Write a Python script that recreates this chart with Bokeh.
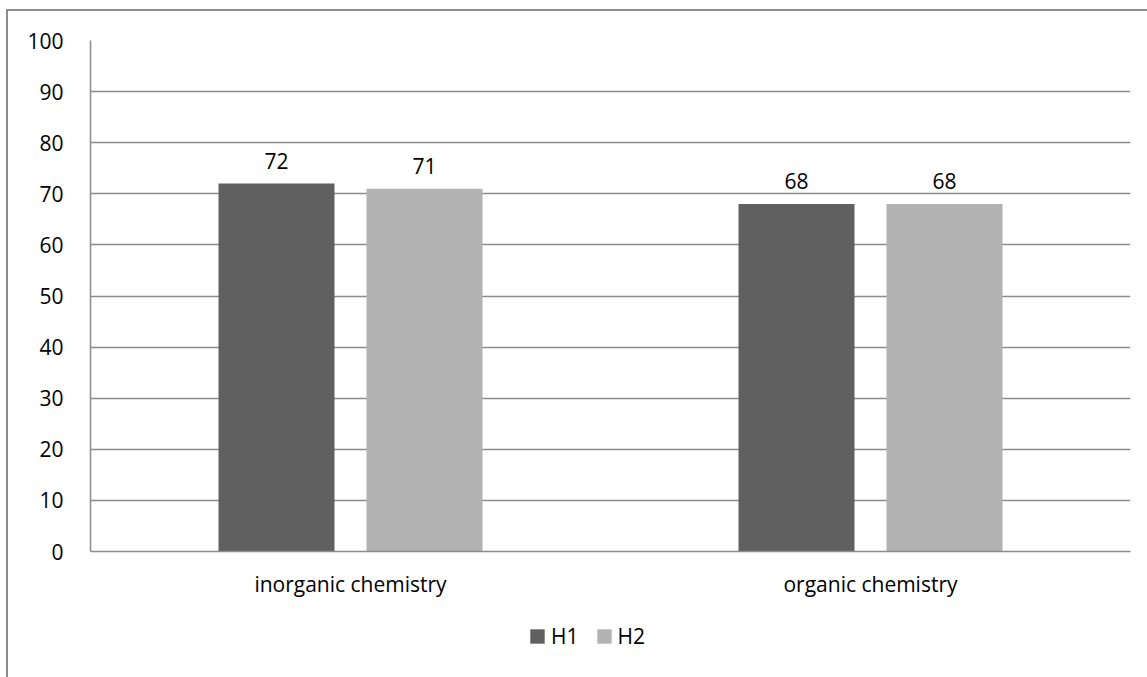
from bokeh.plotting import figure
from bokeh.layouts import column
from bokeh.models import ColumnDataSource, FactorRange, Legend, LegendItem, LabelSet, FixedTicker, Range1d
from bokeh.core.properties import value
from bokeh.transform import dodge
from bokeh.embed import file_html
from bokeh.resources import INLINE

categories = ["inorganic chemistry", "organic chemistry"]
h1_values = [72, 68]
h2_values = [71, 68]
series_names = ["H1", "H2"]
y_ticks = [0, 10, 20, 30, 40, 50, 60, 70, 80, 90, 100]

FONT = "Open Sans"
FS = "21px"
GRID = "#8c8c8c"
C1 = "#606060"
C2 = "#b2b2b2"

src = ColumnDataSource(dict(cat=categories, h1=h1_values, h2=h2_values,
                            h1s=[str(v) for v in h1_values], h2s=[str(v) for v in h2_values]))

p = figure(x_range=FactorRange(*categories, range_padding=0), y_range=Range1d(0, 100),
           width=1139, height=589, output_backend="svg", toolbar_location=None,
           min_border_left=82, min_border_right=17, min_border_top=29, min_border_bottom=48)

off = 74 / 520
bw = 116 / 520
r1 = p.vbar(x=dodge("cat", -off, range=p.x_range), top="h1", width=bw, source=src,
            fill_color=C1, line_color=None)
r2 = p.vbar(x=dodge("cat", off, range=p.x_range), top="h2", width=bw, source=src,
            fill_color=C2, line_color=None)

for col, lab in (("h1", "h1s"), ("h2", "h2s")):
    ls = LabelSet(x=dodge("cat", -off if col == "h1" else off, range=p.x_range), y=col, text=lab,
                  source=src, text_align="center", text_baseline="middle", y_offset=23,
                  text_font=value(FONT), text_font_size=value(FS), text_color="#000000")
    p.add_layout(ls)

p.outline_line_color = None
p.xgrid.grid_line_color = None
p.ygrid.grid_line_color = GRID
p.ygrid.grid_line_width = 1.5
p.yaxis.ticker = FixedTicker(ticks=y_ticks)
p.yaxis.axis_line_color = GRID
p.yaxis.axis_line_width = 1.5
p.yaxis.major_tick_line_color = None
p.yaxis.minor_tick_line_color = None
p.yaxis.major_label_standoff = 21
p.yaxis.major_label_text_font = FONT
p.yaxis.major_label_text_font_size = FS
p.yaxis.major_label_text_color = "#000000"
p.xaxis.axis_line_color = GRID
p.xaxis.axis_line_width = 1.5
p.xaxis.major_tick_line_color = None
p.xaxis.minor_tick_line_color = None
p.xaxis.major_label_standoff = 12
p.xaxis.major_label_text_font = FONT
p.xaxis.major_label_text_font_size = FS
p.xaxis.major_label_text_color = "#000000"

# legend strip below the chart: zero-size copies of the series only feed the legend
lp = figure(width=1139, height=77, output_backend="svg", toolbar_location=None,
            x_range=FactorRange(*categories, range_padding=0), y_range=Range1d(0, 1),
            x_axis_location=None, y_axis_location=None,
            min_border_left=0, min_border_right=0, min_border_top=0, min_border_bottom=0)
lp.grid.visible = False
lp.outline_line_color = None
l1 = lp.vbar(x="cat", top="h1", bottom="h1", width=0, source=src, fill_color=C1, line_color=None)
l2 = lp.vbar(x="cat", top="h2", bottom="h2", width=0, source=src, fill_color=C2, line_color=None)
legend = Legend(items=[LegendItem(label=series_names[0], renderers=[l1]),
                       LegendItem(label=series_names[1], renderers=[l2])],
                orientation="horizontal", location=(438, 27),
                glyph_width=18, glyph_height=18, label_standoff=5, spacing=16,
                label_text_font=FONT, label_text_font_size=FS, label_text_color="#000000",
                border_line_color=None, background_fill_alpha=0, margin=0, padding=0)
lp.add_layout(legend, "center")

layout = column(p, lp, spacing=0,
                styles={"border-left": "2px solid #8c8c8c", "border-top": "2px solid #8c8c8c",
                        "margin-left": "6px", "margin-top": "9px"})

open("out.html", "w").write(file_html(layout, INLINE))
